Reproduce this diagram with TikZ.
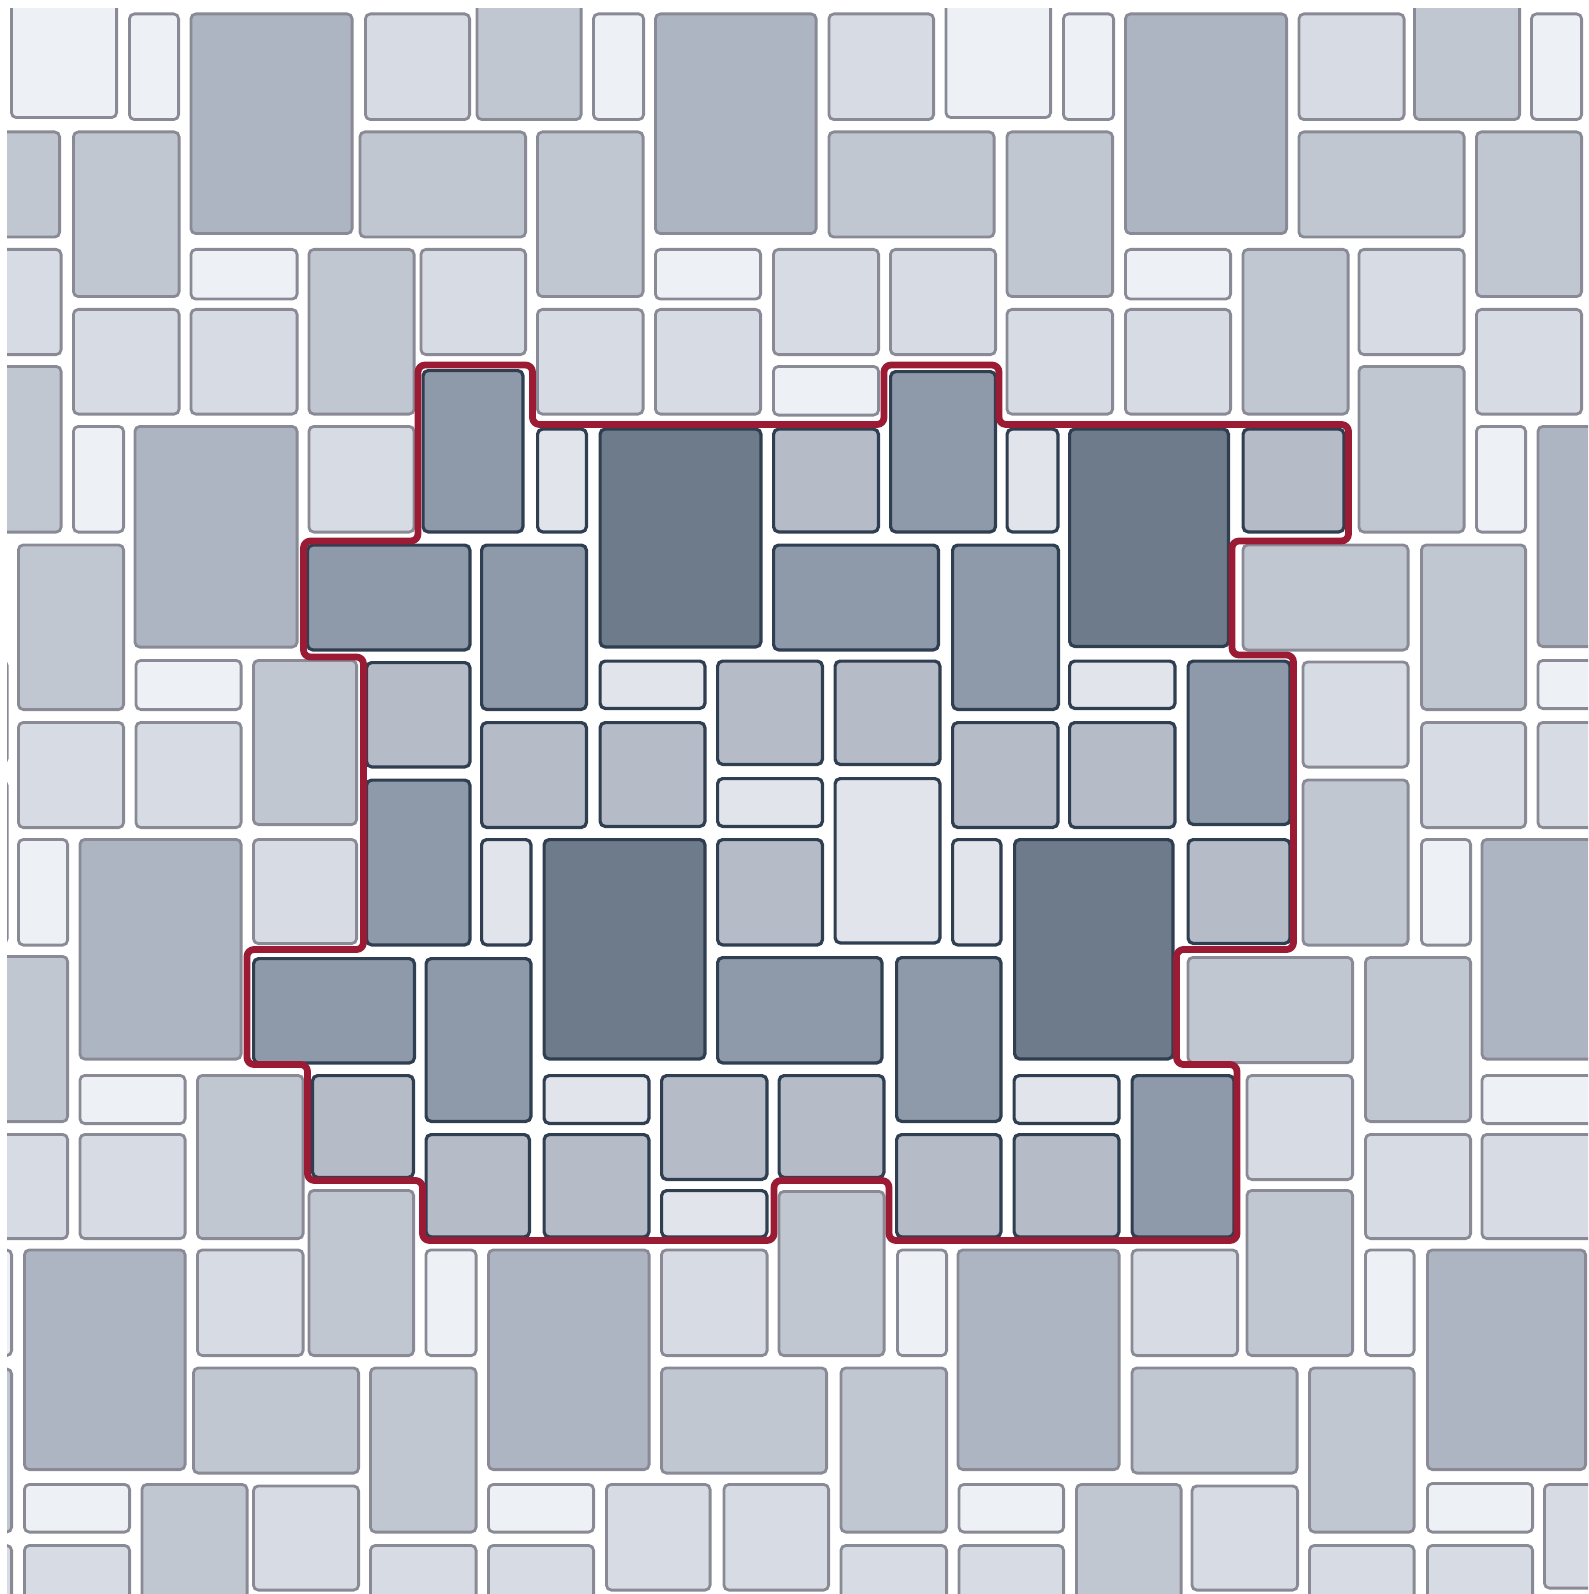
\documentclass[tikz,border=0pt]{standalone}
\usepackage{xcolor}
\usepackage{tikz}
\definecolor{paleA}{HTML}{EDF0F4}
\definecolor{paleB}{HTML}{D7DBE3}
\definecolor{paleC}{HTML}{C0C7D1}
\definecolor{paleD}{HTML}{ACB5C1}
\definecolor{coreA}{HTML}{E1E4EA}
\definecolor{coreB}{HTML}{B5BCC8}
\definecolor{coreC}{HTML}{8E9AA9}
\definecolor{coreD}{HTML}{6E7B8B}
\definecolor{edgegray}{HTML}{898A95}
\definecolor{edgenavy}{HTML}{2F3E50}
\definecolor{crimson}{HTML}{9B1B35}

\begin{document}
\begin{tikzpicture}[x=1pt,y=-1pt,
  outertile/.style={draw=edgegray,line width=2.8pt,rounded corners=5pt},
  innertile/.style={draw=edgenavy,line width=3.2pt,rounded corners=5pt},
  repeatline/.style={draw=crimson,line width=6.8pt,rounded corners=7pt,line join=round}]
\useasboundingbox (0,0) rectangle (1588,1594);
\begin{scope}
\clip (7,9) rectangle (1588,1594);
\foreach \xa/\ya/\xb/\yb in {10/-40/118/119, 128/12.5/180/121, 592/12.5/645/121, 944.5/-40/1052/119,
  1062/12.5/1115/121, 1530/12.5/1583/121, 189.5/248/298.5/300.5, 654/248/762/300.5,
  772/365/880/416.5, 1124/248/1232/300.5, 72/425/125/533.5, 1475/425/1527/533.5,
  134.5/659/242.5/711, 1536.5/659/1644/710, 17/838/69/946.5, 1420/838/1472/946.5,
  78.5/1074/186.5/1125, 1480.5/1074/1644/1125, 424.5/1248.5/477.5/1357, 896/1248.5/948/1357,
  1364/1248.5/1415.5/1357, 23/1483/131/1533.5, 487/1483/595/1533.5, 957.5/1483/1065/1533.5,
  1426/1482/1534/1533.5, -40/1248.5/13/1357}
  \draw[outertile,fill=paleA] (\xa+1.4,\ya+1.4) rectangle (\xb-1.4,\yb-1.4);
\foreach \xa/\ya/\xb/\yb in {364/12.5/471/121, 827.5/12.5/935/121, 1297.5/12.5/1405.5/121,
  -40/248/62.5/356, 419.5/248/527/356, 772/248/880/356, 889/248/997/356, 1357.5/248/1465.5/356,
  72/308/180.5/415.5, 189.5/308/298.5/415.5, 536/308/644.5/415.5, 654/308/762/415.5,
  1005.5/308/1114/415.5, 1124/308/1232/415.5, 1475/308/1583/415.5, 307.5/425/415.5/533.5,
  17/721/125/829, 134.5/721/242.5/829, 1301.5/660.5/1409.5/768.5, 1420/721/1527/829,
  1536.5/721/1644/829, 252/838/358/945, -40/1133/69/1240, 78.5/1133/186.5/1240,
  1245.5/1074/1354/1181, 1364/1133/1472/1240, 1480.5/1133/1644/1240, 196/1248.5/304.5/1357,
  660/1248.5/768.5/1357, 1130.5/1248.5/1239/1357, 252/1484.5/360/1591.5, 605/1483/711.5/1591.5,
  722.5/1483/830/1591.5, 1190.5/1484.5/1299/1591.5, 1543/1483/1644/1589.5, 23/1544/131/1650,
  369/1544/477.5/1650, 487/1544/595/1650, 839.5/1544/948/1650, 957.5/1544/1065/1650,
  1308/1544/1415.5/1650, 1426/1544/1534/1650, -40/1544/13/1650, -60/659/8.5/765}
  \draw[outertile,fill=paleB] (\xa+1.4,\ya+1.4) rectangle (\xb-1.4,\yb-1.4);
\foreach \xa/\ya/\xb/\yb in {475.5/-40/582.5/121, 1413/-40/1521/121, -40/130.5/61/238.5,
  72/130.5/180.5/298, 358.5/130.5/527/238.5, 536/130.5/644.5/298, 827.5/130.5/995.5/238.5,
  1005.5/130.5/1114/298, 1297.5/130.5/1465.5/238.5, 1475/130.5/1583/298, 307.5/248/415.5/415.5,
  1241.5/248/1349.5/415.5, -40/365/62.5/533.5, 1357.5/365/1465.5/533.5, 17/543.5/125/711,
  252/659/358/826, 1241.5/543.5/1409.5/651.5, 1420/543.5/1527/711, 1301.5/778.5/1409.5/946.5,
  -40/955/69/1123, 1186.5/956/1354/1064, 1364/956/1472/1123, 196/1074/304.5/1240,
  307.5/1189/415/1357, 777.5/1190/885.5/1357, 1245.5/1189/1354/1357, 192/1366.5/360/1474.5,
  369/1366.5/477.5/1533.5, 660/1366.5/828/1474.5, 839.5/1366.5/948/1533.5,
  1130.5/1366.5/1298.5/1474.5, 1308/1366.5/1415.5/1533.5, 140.5/1483/248.5/1650,
  1075/1483/1182.5/1650, -40/1367.5/13/1533.5, -60/779/8.5/945}
  \draw[outertile,fill=paleC] (\xa+1.4,\ya+1.4) rectangle (\xb-1.4,\yb-1.4);
\foreach \xa/\ya/\xb/\yb in {189.5/12.5/353.5/235, 654/12.5/817.5/235, 1124/12.5/1288/235,
  133.5/425/298.5/648.5, 1536.5/425/1700/648, 78.5/838/242.5/1060.5, 1480.5/838/1700/1060.5,
  23/1248.5/186.5/1471, 487/1248.5/650.5/1471, 956.5/1248.5/1120.5/1471, 1426/1248.5/1587/1471}
  \draw[outertile,fill=paleD] (\xa+1.4,\ya+1.4) rectangle (\xb-1.4,\yb-1.4);
\foreach \xa/\ya/\xb/\yb in {536/427.5/588/533.5, 1005.5/427.5/1059.5/533.5, 598.5/659.5/706.5/710,
  716/777/824/828, 833.5/777/941.5/944.5, 1068/659.5/1176.5/710, 480/838/532.5/946.5,
  951/838/1002.5/946.5, 542.5/1074/650.5/1125, 660/1189/768.5/1238.5, 1012.5/1074/1120.5/1125}
  \draw[innertile,fill=coreA] (\xa+1.6,\ya+1.6) rectangle (\xb-1.6,\yb-1.6);
\foreach \xa/\ya/\xb/\yb in {772/427.5/880/533.5, 1241.5/427.5/1345.5/533.5, 365/661/471.5/768.5,
  480/721/588/829, 716/659.5/824/766, 833.5/659.5/941.5/766, 598.5/721/706.5/828,
  951/721/1059.5/829, 1068/721/1176.5/829, 716/838/824/946.5, 1186.5/838/1291.5/945,
  311/1074/415/1179, 424.5/1133/531/1238.5, 542.5/1133/650.5/1238.5, 660/1074/768.5/1181,
  777.5/1074/885.5/1179, 895/1133/1002.5/1238.5, 1012.5/1133/1120.5/1238.5}
  \draw[innertile,fill=coreB] (\xa+1.6,\ya+1.6) rectangle (\xb-1.6,\yb-1.6);
\foreach \xa/\ya/\xb/\yb in {421.5/369/524.5/533.5, 889/370/997/533.5, 306/543.5/471.5/651.5,
  480/543.5/588/711, 772/543.5/940/651.5, 951/543.5/1060/711, 365/778.5/471.5/946.5,
  1186.5/659.5/1291.5/826, 252/957/416/1064.5, 424.5/957/532.5/1123, 716/956/883.5/1064.5,
  895/956/1002.5/1123, 1130.5/1074/1235.5/1238.5}
  \draw[innertile,fill=coreC] (\xa+1.6,\ya+1.6) rectangle (\xb-1.6,\yb-1.6);
\foreach \xa/\ya/\xb/\yb in {598.5/427.5/762.5/648.5, 1068/427.5/1230/648, 542.5/838/706.5/1060.5,
  1013/838/1174.5/1060.5}
  \draw[innertile,fill=coreD] (\xa+1.6,\ya+1.6) rectangle (\xb-1.6,\yb-1.6);
\end{scope}
\draw[repeatline] (418,365) -- (418,541) -- (303.5,541) -- (303.5,657) -- (363.5,657)
  -- (363.5,949.5) -- (247,949.5) -- (247,1064.5) -- (307.5,1064.5) -- (307.5,1180.5)
  -- (422.5,1180.5) -- (422.5,1240.5) -- (774,1240.5) -- (774,1180.5) -- (889,1180.5)
  -- (889,1240.5) -- (1237,1240.5) -- (1237,1064.5) -- (1176.5,1064.5) -- (1176.5,949.5)
  -- (1293.5,949.5) -- (1293.5,655) -- (1232,655) -- (1232,541) -- (1348.5,541)
  -- (1348.5,424.5) -- (999,424.5) -- (999,365) -- (884,365) -- (884,424.5)
  -- (532.5,424.5) -- (532.5,365) -- cycle;
\end{tikzpicture}
\end{document}
